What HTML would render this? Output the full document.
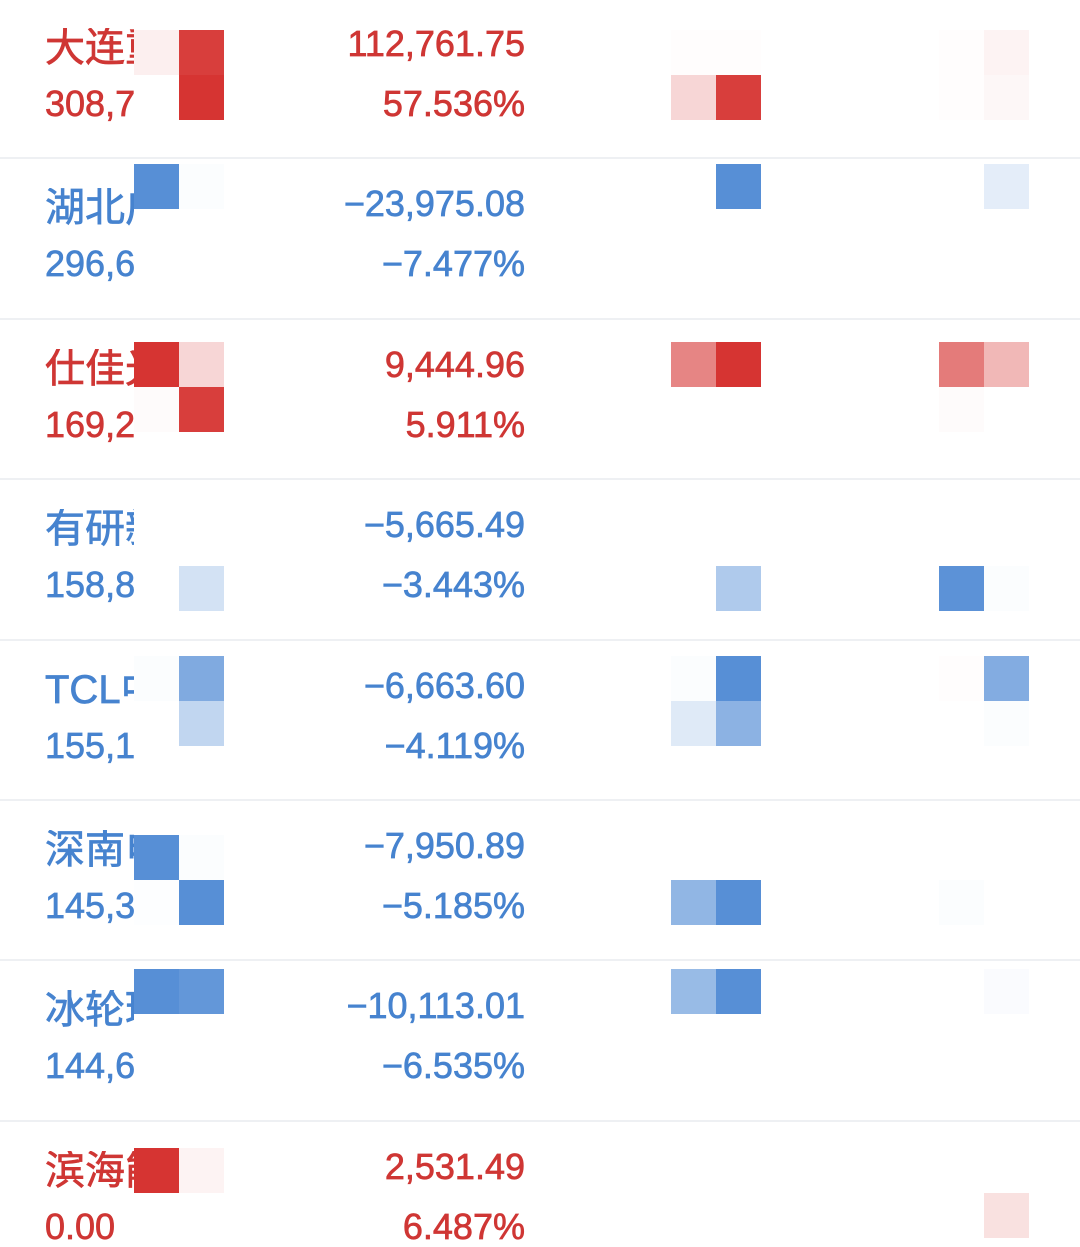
<!DOCTYPE html>
<html><head><meta charset="utf-8">
<style>
html,body{margin:0;padding:0;background:#fff;width:1080px;height:1247px;overflow:hidden;position:relative;font-family:"Liberation Sans","Noto Sans CJK SC",sans-serif}
.t{position:absolute;white-space:nowrap;line-height:1;-webkit-text-stroke:0.7px currentColor}
.sep{position:absolute;left:0;width:1080px;height:2px;background:#eef0f3}
.cell{position:absolute;width:45px;height:45px}
</style></head>
<body>
<script>
const names=["大连重工","湖北广电","仕佳光子","有研新材","TCL中环","深南电路","冰轮环境","滨海能源"];
const sub=["308,745.20","296,640.11","169,220.35","158,850.42","155,104.77","145,321.06","144,655.30","0.00"];
const amounts=["112,761.75","−23,975.08","9,444.96","−5,665.49","−6,663.60","−7,950.89","−10,113.01","2,531.49"];
const pcts=["57.536%","−7.477%","5.911%","−3.443%","−4.119%","−5.185%","−6.535%","6.487%"];
const up=[true,false,true,false,false,false,false,true];
// heat values per row: 3 groups x [tl,tr,bl,br]
const heat=[
 [0.08,0.95,0,1, 0.01,0.01,0.2,0.95, 0.01,0.06,0.01,0.04],
 [-0.95,-0.02,0,0, 0,-0.95,0,0, 0,-0.15,0,0],
 [1,0.2,0.02,0.95, 0.6,1,0,0, 0.65,0.35,0.02,0],
 [0,0,0,-0.25, 0,0,0,-0.45, 0,0,-0.92,-0.02],
 [-0.02,-0.72,0,-0.35, -0.02,-0.95,-0.18,-0.65, 0.01,-0.7,0,-0.02],
 [-0.95,-0.02,-0.01,-0.95, 0,0,-0.62,-0.95, 0,0,-0.02,0],
 [-0.95,-0.88,0,0, -0.58,-0.95,0,0, 0,-0.03,0,0],
 [1,0.06,0,0, 0,0,0,0, 0,0,0,0.15]
];
const rowH=160.4, cellTop=[30,164,342,521,656,835,969,1148];
const groupX=[134,671,939];
const RED=[214,52,50], BLUE=[78,137,212];
function col(v){const b=v>=0?RED:BLUE,a=Math.min(1,Math.abs(v));return `rgb(${b.map(c=>Math.round(255+(c-255)*a)).join(',')})`;}
const body=document.body;
function mk(cls,css,txt){const e=document.createElement('div');e.className=cls;Object.assign(e.style,css);if(txt!=null)e.textContent=txt;body.appendChild(e);return e;}
for(let i=0;i<8;i++){
  const top=i*rowH, c=up[i]?'#cf3634':'#4683cf';
  if(i>0){const s=mk('sep',{top:(top-3)+'px'});
  
  }
  const wrap=mk('t',{left:'45px',top:(top+28)+'px',width:'89px',overflow:'hidden',fontSize:'40px',color:c});
  wrap.textContent=names[i];
  
  
  const s2=mk('t',{left:'45px',top:(top+86)+'px',width:'89px',overflow:'hidden',fontSize:'36px',color:c},sub[i]);
  
  
  const a=mk('t',{right:'555px',top:(top+26)+'px',fontSize:'36px',color:c},amounts[i]);
  
  
  const p=mk('t',{right:'555px',top:(top+86)+'px',fontSize:'36px',color:c},pcts[i]);
  
  
  for(let g=0;g<3;g++)for(let k=0;k<4;k++){
    const v=heat[i][g*4+k];
    const x=groupX[g]+(k%2)*45, y=cellTop[i]+Math.floor(k/2)*45;
    const ce=mk('cell',{left:x+'px',top:y+'px',background:v===0?'#fff':col(v)});
    
    
  }
}
</script>
</body></html>
